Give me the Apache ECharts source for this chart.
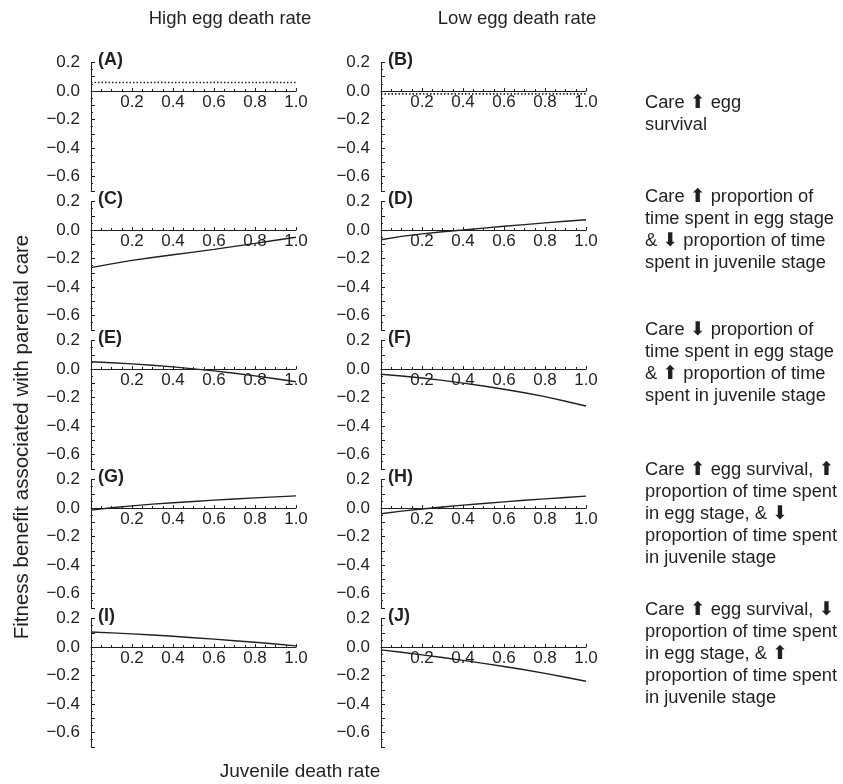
<!DOCTYPE html>
<html><head><meta charset="utf-8">
<script src="https://cdn.jsdelivr.net/npm/echarts@6/dist/echarts.min.js"></script>
<style>html,body{margin:0;padding:0;background:#fff}#c{width:843px;height:784px}</style>
</head><body><div id="c"></div>
<script>
// Juvenile death rate (x)
const juvenileDeathRate = [0, 0.1, 0.2, 0.3, 0.4, 0.5, 0.6, 0.7, 0.8, 0.9, 1.0];
// Fitness benefit associated with parental care, panels A–J
const panelA = [0.06, 0.06, 0.06, 0.06, 0.06, 0.06, 0.06, 0.06, 0.06, 0.06, 0.06];
const panelB = [-0.02, -0.02, -0.02, -0.02, -0.02, -0.02, -0.02, -0.02, -0.02, -0.02, -0.02];
const panelC = [-0.264, -0.238, -0.213, -0.193, -0.174, -0.155, -0.136, -0.115, -0.094, -0.072, -0.051];
const panelD = [-0.068, -0.045, -0.027, -0.012, 0.0, 0.013, 0.026, 0.038, 0.05, 0.061, 0.072];
const panelE = [0.051, 0.044, 0.036, 0.026, 0.015, 0.001, -0.013, -0.030, -0.048, -0.068, -0.089];
const panelF = [-0.037, -0.049, -0.063, -0.080, -0.099, -0.119, -0.142, -0.167, -0.194, -0.226, -0.26];
const panelG = [-0.015, 0.002, 0.015, 0.027, 0.037, 0.046, 0.055, 0.063, 0.071, 0.078, 0.085];
const panelH = [-0.04, -0.022, -0.007, 0.007, 0.02, 0.032, 0.043, 0.054, 0.064, 0.074, 0.083];
const panelI = [0.105, 0.099, 0.092, 0.084, 0.075, 0.065, 0.055, 0.044, 0.033, 0.021, 0.008];
const panelJ = [-0.02, -0.037, -0.055, -0.074, -0.094, -0.115, -0.137, -0.16, -0.185, -0.212, -0.24];

const panelLetters = ['(A)', '(B)', '(C)', '(D)', '(E)', '(F)', '(G)', '(H)', '(I)', '(J)'];
const panelSeries = [panelA, panelB, panelC, panelD, panelE, panelF, panelG, panelH, panelI, panelJ];
const dottedPanels = [0, 1];
const columnTitles = ['High egg death rate', 'Low egg death rate'];
const yTitle = 'Fitness benefit associated with parental care';
const xTitle = 'Juvenile death rate';
const rowNotes = [
  'Care {a|⬆} egg\nsurvival',
  'Care {a|⬆} proportion of\ntime spent in egg stage\n& {a|⬇} proportion of time\nspent in juvenile stage',
  'Care {a|⬇} proportion of\ntime spent in egg stage\n& {a|⬆} proportion of time\nspent in juvenile stage',
  'Care {a|⬆} egg survival, {a|⬆}\nproportion of time spent\nin egg stage, & {a|⬇}\nproportion of time spent\nin juvenile stage',
  'Care {a|⬆} egg survival, {a|⬇}\nproportion of time spent\nin egg stage, & {a|⬆}\nproportion of time spent\nin juvenile stage'
];

const FONT = '"Liberation Sans", Arial, Helvetica, sans-serif';
const INK = '#231f20';
const colLeft = [91, 381];
const plotW = 205;
const rowZero = [91, 230, 369, 508, 647];
const pxPerUnit = 142.5;
const yMin = -0.7, yMax = 0.2;

const grids = [], xAxes = [], yAxes = [], series = [], graphics = [];
for (let i = 0; i < 10; i++) {
  const r = Math.floor(i / 2), c = i % 2;
  const top = rowZero[r] - yMax * pxPerUnit;
  const h = (yMax - yMin) * pxPerUnit;
  grids.push({ left: colLeft[c], top: top, width: plotW, height: h });
  xAxes.push({
    gridIndex: i, type: 'value', min: 0, max: 1, interval: 0.2,
    position: 'bottom', offset: yMin * pxPerUnit,
    axisLine: { onZero: false, lineStyle: { color: INK, width: 1 } },
    axisTick: { inside: true, length: 3, lineStyle: { color: INK } },
    minorTick: { show: true, splitNumber: 4, length: 2, lineStyle: { color: INK } },
    splitLine: { show: false },
    axisLabel: {
      color: INK, fontFamily: FONT, fontSize: 17, margin: 3,
      formatter: v => (Math.abs(v) < 1e-9 ? '' : v.toFixed(1))
    }
  });
  yAxes.push({
    gridIndex: i, type: 'value', min: yMin, max: yMax, interval: 0.1,
    axisLine: { show: true, onZero: false, lineStyle: { color: INK, width: 1 } },
    axisTick: { show: true, inside: true, length: 4, lineStyle: { color: INK } },
    minorTick: { show: true, splitNumber: 2, length: 2, lineStyle: { color: INK } },
    splitLine: { show: false },
    axisLabel: {
      color: INK, fontFamily: FONT, fontSize: 17, margin: 11,
      formatter: v => {
        const k = Math.round(v * 10);
        if (k % 2 !== 0) return '';
        if (k === 0) return '0.0';
        return (k < 0 ? '\u2212' : '') + (Math.abs(k) / 10).toFixed(1);
      }
    }
  });
  series.push({
    type: 'line', xAxisIndex: i, yAxisIndex: i, showSymbol: false, silent: true,
    data: juvenileDeathRate.map((x, j) => [x, panelSeries[i][j]]),
    lineStyle: dottedPanels.includes(i)
      ? { color: INK, width: 1.6, type: [1.5, 2] }
      : { color: INK, width: 1.4 }
  });
  graphics.push({
    type: 'text', left: colLeft[c] + 7, top: top - 11,
    style: { text: panelLetters[i], fontFamily: FONT, fontWeight: 'bold', fontSize: 18, fill: INK }
  });
}

graphics.push({ type: 'text', x: 230, y: 19,
  style: { text: columnTitles[0], fontFamily: FONT, fontSize: 18.5, fill: INK, align: 'center', verticalAlign: 'middle' } });
graphics.push({ type: 'text', x: 517, y: 19,
  style: { text: columnTitles[1], fontFamily: FONT, fontSize: 18.5, fill: INK, align: 'center', verticalAlign: 'middle' } });
graphics.push({ type: 'text', x: 22, y: 437, rotation: Math.PI / 2,
  style: { text: yTitle, fontFamily: FONT, fontSize: 20.5, fill: INK, align: 'center', verticalAlign: 'middle' } });
graphics.push({ type: 'text', x: 300, y: 772,
  style: { text: xTitle, fontFamily: FONT, fontSize: 19, fill: INK, align: 'center', verticalAlign: 'middle' } });

const noteTops = [92, 186, 319, 459, 599];
rowNotes.forEach((t, r) => {
  graphics.push({ type: 'text', x: 645, y: noteTops[r],
    style: { text: t, fontFamily: FONT, fontSize: 18.3, lineHeight: 22, fill: INK, align: 'left', verticalAlign: 'top',
      rich: { a: { fontFamily: '"DejaVu Sans", sans-serif', fontSize: 19, lineHeight: 22, fill: INK } } } });
});

const chart = echarts.init(document.getElementById('c'), null, { renderer: 'canvas' });
chart.setOption({
  animation: false,
  backgroundColor: '#ffffff',
  grid: grids, xAxis: xAxes, yAxis: yAxes, series: series, graphic: graphics
});
</script></body></html>
